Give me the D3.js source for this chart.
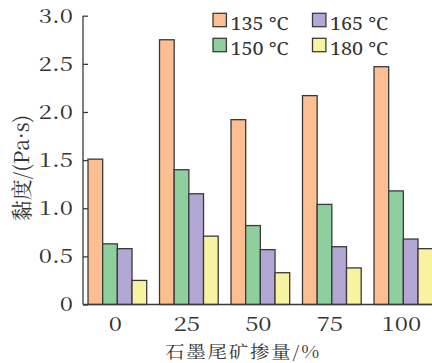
<!DOCTYPE html>
<html>
<head>
<meta charset="utf-8">
<script src="https://cdn.jsdelivr.net/npm/d3@7"></script>
<style>
  html, body { margin: 0; padding: 0; background: #fff; overflow: hidden; }
  svg { display: block; }
</style>
</head>
<body>
<svg id="chart" width="432" height="363"></svg>
<script>
// Graphite tailings content (%) on the x axis
const categories = ["0", "25", "50", "75", "100"];
// Test temperatures
const seriesNames = ["135 ℃", "150 ℃", "165 ℃", "180 ℃"];
// Viscosity (Pa·s) per temperature, one value per category
const v135 = [1.51, 2.75, 1.92, 2.17, 2.47];
const v150 = [0.63, 1.40, 0.82, 1.04, 1.18];
const v165 = [0.58, 1.15, 0.57, 0.60, 0.68];
const v180 = [0.25, 0.71, 0.33, 0.38, 0.58];
const yTicks = [0, 0.5, 1.0, 1.5, 2.0, 2.5, 3.0];
const colors = ["#fdbe92", "#8fcf9d", "#b3a7d3", "#f8f3a1"];

const FONT = "'Noto Serif CJK SC', 'Noto Serif', serif";
const LEGEND_FONT = "'Noto Serif', 'Noto Serif CJK SC', serif";
const WIDEN = 1.2;           // horizontal glyph stretch used for all labels
const INK = "#3a3a3a";

const series = [v135, v150, v165, v180];
const rows = categories.map((c, i) => ({ cat: c, vals: series.map(s => s[i]) }));

const svg = d3.select("#chart");
const axisX0 = 83, baseY = 304.5, topY = 15.7;

const x = d3.scaleBand().domain(categories).range([81.6, 439.1])
  .paddingInner(0.179).paddingOuter(0.0895);
const xs = d3.scaleBand().domain(d3.range(4)).range([0, x.bandwidth()]);
const y = d3.scaleLinear().domain([0, 3]).range([baseY, topY]);

// grouped bars
svg.append("g").selectAll("g.grp").data(rows).join("g")
  .attr("class", "grp")
  .attr("transform", d => `translate(${x(d.cat)},0)`)
  .selectAll("rect").data(d => d.vals).join("rect")
  .attr("x", (d, i) => xs(i))
  .attr("width", xs.bandwidth())
  .attr("y", d => y(d))
  .attr("height", d => baseY - y(d))
  .attr("fill", (d, i) => colors[i])
  .attr("stroke", INK)
  .attr("stroke-width", 1.3);

// y axis, ticks pointing inward
const yAxis = d3.axisLeft(y).tickValues(yTicks)
  .tickFormat(d => d === 0 ? "0" : d3.format(".1f")(d))
  .tickSizeInner(-5).tickSizeOuter(0).tickPadding(10);
const ya = svg.append("g").attr("transform", `translate(${axisX0},0)`).call(yAxis);
ya.select(".domain").attr("stroke", INK).attr("stroke-width", 1.3)
  .attr("d", `M0,${topY}V${baseY}`);
ya.selectAll(".tick line").attr("stroke", INK).attr("stroke-width", 1.3);
ya.selectAll(".tick text")
  .attr("x", 0)
  .attr("transform", `translate(-10,0) scale(${WIDEN},1)`)
  .style("font-family", FONT).style("font-size", "20px").attr("fill", "#333");

// x axis, no tick marks
const xAxis = d3.axisBottom(x).tickSize(0).tickPadding(12);
const xa = svg.append("g").attr("transform", `translate(0,${baseY})`).call(xAxis);
xa.select(".domain").attr("stroke", INK).attr("stroke-width", 1.3)
  .attr("d", `M${axisX0},0H432`);
xa.selectAll(".tick text")
  .attr("y", 0)
  .attr("transform", `translate(-2,12) scale(${WIDEN},1)`)
  .style("font-family", FONT).style("font-size", "20px").attr("fill", "#333");

// axis titles
svg.append("text")
  .attr("transform", `translate(243,358) scale(1.15,1)`)
  .attr("text-anchor", "middle")
  .style("font-family", FONT).style("font-size", "17px")
  .attr("letter-spacing", 1.5)
  .attr("fill", "#333")
  .text("石墨尾矿掺量/%");

svg.append("text")
  .attr("transform", "translate(29,168) rotate(-90)")
  .attr("text-anchor", "middle")
  .style("font-family", FONT).style("font-size", "21px")
  .attr("fill", "#333")
  .text("黏度/(Pa·s)");

// legend, two columns
const legend = svg.append("g");
const lx = [213, 312.5], ly = [13.3, 38.3];
seriesNames.forEach((name, i) => {
  const col = i < 2 ? 0 : 1, row = i % 2;
  const item = legend.append("g").attr("transform", `translate(${lx[col]},${ly[row]})`);
  item.append("rect").attr("width", 13.4).attr("height", 13.4)
    .attr("fill", colors[i]).attr("stroke", INK).attr("stroke-width", 1.3);
  item.append("text")
    .attr("transform", `translate(17.5,16.8) scale(1.1,1)`)
    .style("font-family", LEGEND_FONT).style("font-size", "18px")
    .attr("fill", "#333").text(name);
});
</script>
</body>
</html>
